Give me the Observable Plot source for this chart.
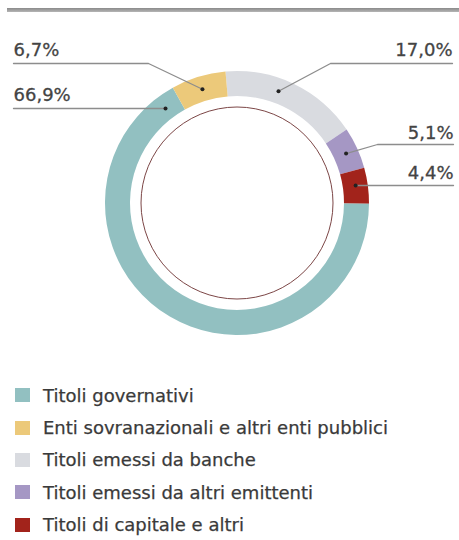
<!DOCTYPE html>
<html><head><meta charset="utf-8">
<script src="https://cdn.jsdelivr.net/npm/d3@7"></script>
<script src="https://cdn.jsdelivr.net/npm/@observablehq/plot@0.6"></script>
<style>
body{margin:0;background:#fff;font-family:"DejaVu Sans",sans-serif;width:459px;height:540px;overflow:hidden;}
#bar{height:4px;margin:8px 0 0 7px;background:linear-gradient(#8a8a8a,#b5b5b5);}
#legend{margin-top:7px;}
.row{display:flex;align-items:center;height:32.4px;}
.sw{width:15px;height:14px;margin-left:15px;margin-right:13px;flex:none;}
.lt{font-size:18px;color:#3a3a3a;white-space:nowrap;-webkit-text-stroke:0.25px #3a3a3a;}
</style></head><body>
<div id="bar"></div>
<div id="chart"></div>
<div id="legend"></div>
<script>
// ---- data ----
const categories = ["Titoli governativi","Enti sovranazionali e altri enti pubblici","Titoli emessi da banche","Titoli emessi da altri emittenti","Titoli di capitale e altri"];
const values = [66.9, 6.7, 17.0, 5.1, 4.4];
const valueLabels = ["66,9%","6,7%","17,0%","5,1%","4,4%"];
const colors = ["#92c0c1","#ecc97a","#d9dbe0","#a597c4","#a2231b"];
// clockwise order of slices on the ring, starting near 12 o'clock
const ringOrder = [2,3,4,0,1];

// ---- layout (page pixel units) ----
const W = 459, H = 360, top0 = 12;
const center = [237, 203], Rout = 132, Rin = 107, Rthin = 96, Rmid = 119.5;
const startDeg = -5;
// label layout per category: text anchor x, baseline y, underline y, elbow x, fraction along slice for the dot
const lbl = [
  {side:"start", x:13,  base:100, uy:108, ex:null, frac:0.967},
  {side:"start", x:13,  base:55,  uy:63,  ex:148,  frac:0.5},
  {side:"end",   x:452, base:55,  uy:63,  ex:330,  frac:0.41},
  {side:"end",   x:453, base:138, uy:144, ex:377,  frac:0.5},
  {side:"end",   x:453, base:178, uy:185, ex:null, frac:0.43}
];

const a0 = startDeg*Math.PI/180;
const pie = d3.pie().sort(null).value(i => values[i]).startAngle(a0).endAngle(a0 + 2*Math.PI)(ringOrder);
const sliceOf = new Map(pie.map(p => [p.data, p]));

const rows = categories.map((c, i) => {
  const p = sliceOf.get(i);
  const ang = p.startAngle + (p.endAngle - p.startAngle) * lbl[i].frac;
  const dx = center[0] + Rmid*Math.sin(ang);
  const dy = lbl[i].ex != null ? center[1] - Rmid*Math.cos(ang) : lbl[i].uy;
  return {cat: c, i, label: valueLabels[i], ...lbl[i], dx, dy};
});

const leaders = [];
rows.forEach(r => {
  leaders.push({k:r.i, x:r.x, y:r.uy});
  if (r.ex != null) leaders.push({k:r.i, x:r.ex, y:r.uy});
  leaders.push({k:r.i, x:r.dx, y:r.dy});
});

function donut(index, scales) {
  const sx = scales.x, sy = scales.y;
  const cx = sx(center[0]), cy = sy(center[1]);
  const k = sx(1) - sx(0);
  const g = d3.create("svg:g").attr("transform", `translate(${cx},${cy})`);
  const arc = d3.arc().innerRadius(Rin*k).outerRadius(Rout*k);
  g.selectAll("path").data(pie).join("path")
    .attr("d", arc).attr("fill", d => colors[d.data]);
  g.append("circle").attr("r", Rthin*k).attr("fill","none")
    .attr("stroke","#7c4646").attr("stroke-width",1);
  return g.node();
}

const textOpts = {x:"x", y:"base", text:"label", lineAnchor:"bottom",
  fontSize:18, fill:"#444", stroke:"#444", strokeWidth:0.3, fontFamily:"DejaVu Sans"};

const chart = Plot.plot({
  width: W, height: H,
  margin: 0,
  x: {domain:[0, W], range:[0, W], axis:null},
  y: {domain:[top0, top0+H], range:[0, H], axis:null},
  marks: [
    donut,
    Plot.line(leaders, {x:"x", y:"y", z:"k", stroke:"#8d8d8d", strokeWidth:1.3}),
    Plot.dot(rows, {x:"dx", y:"dy", r:2, fill:"#222"}),
    Plot.text(rows.filter(d => d.side === "start"), {...textOpts, textAnchor:"start"}),
    Plot.text(rows.filter(d => d.side === "end"), {...textOpts, textAnchor:"end"})
  ]
});
document.getElementById("chart").appendChild(chart);

const lg = d3.select("#legend");
categories.forEach((c, i) => {
  const row = lg.append("div").attr("class","row");
  row.append("div").attr("class","sw").style("background", colors[i]);
  row.append("div").attr("class","lt").text(c);
});
</script>
</body></html>
